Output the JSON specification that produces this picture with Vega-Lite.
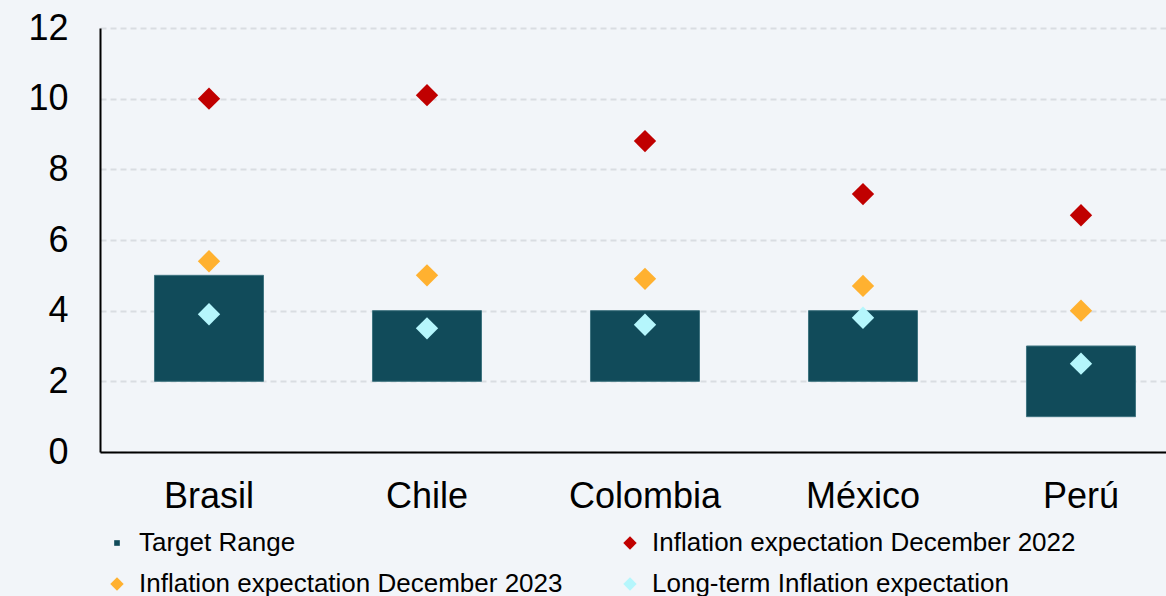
{
  "$schema": "https://vega.github.io/schema/vega-lite/v6.json",
  "autosize": {"type": "none"},
  "padding": {"left": 100, "top": 28, "right": 0, "bottom": 144},
  "width": 1066,
  "height": 424,
  "background": "#F2F5F9",
  "config": {
    "font": "Liberation Sans",
    "view": {"stroke": null},
    "axis": {"labelFont": "Liberation Sans", "labelColor": "#000000"}
  },
  "data": {
    "values": [
      {"country": "Brasil", "series": "Target Range", "low": 2, "high": 5},
      {"country": "Chile", "series": "Target Range", "low": 2, "high": 4},
      {"country": "Colombia", "series": "Target Range", "low": 2, "high": 4},
      {"country": "México", "series": "Target Range", "low": 2, "high": 4},
      {"country": "Perú", "series": "Target Range", "low": 1, "high": 3},
      {"country": "Brasil", "series": "Inflation expectation December 2022", "value": 10.0},
      {"country": "Chile", "series": "Inflation expectation December 2022", "value": 10.1},
      {"country": "Colombia", "series": "Inflation expectation December 2022", "value": 8.8},
      {"country": "México", "series": "Inflation expectation December 2022", "value": 7.3},
      {"country": "Perú", "series": "Inflation expectation December 2022", "value": 6.7},
      {"country": "Brasil", "series": "Inflation expectation December 2023", "value": 5.4},
      {"country": "Chile", "series": "Inflation expectation December 2023", "value": 5.0},
      {"country": "Colombia", "series": "Inflation expectation December 2023", "value": 4.9},
      {"country": "México", "series": "Inflation expectation December 2023", "value": 4.7},
      {"country": "Perú", "series": "Inflation expectation December 2023", "value": 4.0},
      {"country": "Brasil", "series": "Long-term Inflation expectation", "value": 3.9},
      {"country": "Chile", "series": "Long-term Inflation expectation", "value": 3.5},
      {"country": "Colombia", "series": "Long-term Inflation expectation", "value": 3.6},
      {"country": "México", "series": "Long-term Inflation expectation", "value": 3.8},
      {"country": "Perú", "series": "Long-term Inflation expectation", "value": 2.5}
    ]
  },
  "encoding": {
    "x": {
      "field": "country",
      "type": "nominal",
      "sort": ["Brasil", "Chile", "Colombia", "México", "Perú"],
      "scale": {"paddingInner": 0.5, "paddingOuter": 0.195, "align": 0.641},
      "axis": {
        "title": null,
        "labelAngle": 0,
        "labelFontSize": 36,
        "labelPadding": 27,
        "ticks": false,
        "domainColor": "#000000",
        "domainWidth": 2,
        "grid": false
      }
    }
  },
  "layer": [
    {
      "transform": [{"filter": "datum.series === 'Target Range'"}],
      "mark": {"type": "bar", "stroke": "#3F7480", "strokeWidth": 1},
      "encoding": {
        "y": {
          "field": "low",
          "type": "quantitative",
          "scale": {"domain": [0, 12]},
          "axis": {
            "title": null,
            "values": [0, 2, 4, 6, 8, 10, 12],
            "labelFontSize": 36,
            "labelPadding": 32,
            "ticks": false,
            "domainColor": "#000000",
            "domainWidth": 2,
            "grid": true,
            "gridColor": "#D9DDE2",
            "gridWidth": 2,
            "gridDash": [6, 4]
          }
        },
        "y2": {"field": "high"},
        "color": {
          "field": "series",
          "type": "nominal",
          "scale": {
            "domain": ["Target Range", "Inflation expectation December 2022", "Inflation expectation December 2023", "Long-term Inflation expectation"],
            "range": ["#114B5A", "#C00000", "#FFB130", "#B5F6FC"]
          },
          "legend": {
            "title": null,
            "orient": "none",
            "legendX": 4,
            "legendY": 502,
            "direction": "horizontal",
            "columns": 2,
            "columnPadding": 54,
            "rowPadding": 15,
            "labelFontSize": 26,
            "labelFont": "Liberation Sans",
            "labelColor": "#000000",
            "labelOffset": 9,
            "symbolSize": 180,
            "symbolStrokeWidth": 0,
            "labelLimit": 600
          }
        }
      }
    },
    {
      "transform": [{"filter": "datum.series !== 'Target Range'"}],
      "mark": {"type": "point", "filled": true, "opacity": 1, "size": 500},
      "encoding": {
        "y": {"field": "value", "type": "quantitative"},
        "color": {"field": "series", "type": "nominal"},
        "shape": {
          "field": "series",
          "type": "nominal",
          "scale": {
            "domain": ["Target Range", "Inflation expectation December 2022", "Inflation expectation December 2023", "Long-term Inflation expectation"],
            "range": ["M-0.42,-0.42H0.42V0.42H-0.42Z", "diamond", "diamond", "diamond"]
          }
        }
      }
    }
  ]
}
